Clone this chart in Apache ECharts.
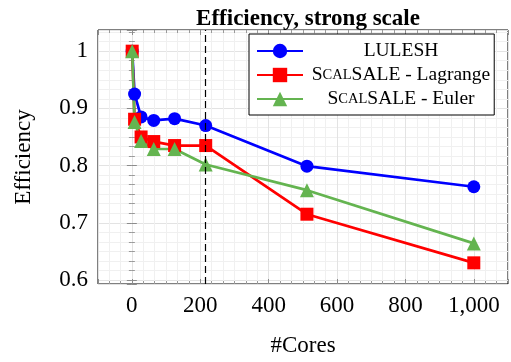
<!DOCTYPE html>
<html>
<head>
<meta charset="utf-8">
<script src="https://cdn.jsdelivr.net/npm/echarts@6/dist/echarts.min.js"></script>
<style>
  html, body { margin: 0; padding: 0; background: #fff; }
  #container { width: 511px; height: 362px; }
</style>
</head>
<body>
<div id="container"></div>
<script>
// cores (cube numbers)
var cores = [1, 8, 27, 64, 125, 216, 512, 1000];
var lulesh = [1.0, 0.925, 0.885, 0.879, 0.882, 0.870, 0.799, 0.763];
var lagrange = [1.0, 0.881, 0.850, 0.842, 0.835, 0.835, 0.715, 0.630];
var euler = [1.0, 0.876, 0.843, 0.829, 0.829, 0.802, 0.757, 0.664];
var markCores = 216;

var serif = '"Liberation Serif", "DejaVu Serif", serif';

function pairs(xs, ys) {
  var out = [];
  for (var i = 0; i < xs.length; i++) out.push([xs[i], ys[i]]);
  return out;
}

function fmtX(v) {
  return String(v).replace(/\B(?=(\d{3})+(?!\d))/g, ',');
}

var tickStyle = { show: true, inside: true, length: 5, lineStyle: { color: '#8c8c8c', width: 1 } };
var minorStyle = { show: true, splitNumber: 6, length: 3, lineStyle: { color: '#9a9a9a', width: 1 } };

var xBase = { type: 'value', min: -99, max: 1100, splitNumber: 6 };
var yBase = { type: 'value', min: 0.593, max: 1.037, splitNumber: 5 };

var chart = echarts.init(document.getElementById('container'));
var option = {
  backgroundColor: '#fff',
  animation: false,
  title: {
    text: 'Efficiency, strong scale',
    left: 303, top: 3, textAlign: 'center',
    textStyle: { fontFamily: serif, fontSize: 23, fontWeight: 'bold', color: '#000' }
  },
  grid: {
    show: true, left: 98, right: 3, top: 30, bottom: 77,
    borderColor: '#000', borderWidth: 1, backgroundColor: 'rgba(0,0,0,0)'
  },
  legend: {
    orient: 'vertical',
    left: 249, top: 34,
    padding: [7, 4, 6, 7],
    itemGap: 4,
    itemWidth: 46, itemHeight: 18,
    backgroundColor: '#fff',
    borderColor: '#000', borderWidth: 1, borderRadius: 0,
    data: ['LULESH', 'Lagrange', 'Euler'],
    formatter: function (name) {
      if (name === 'LULESH') return '{b|LULESH}';
      return '{b|S}{s|CAL}{b|SALE - ' + name + '}';
    },
    textStyle: {
      width: 186,
      fontFamily: serif, fontSize: 19.5, color: '#000',
      rich: {
        b: { fontFamily: serif, fontSize: 19.5, color: '#000', align: 'center' },
        s: { fontFamily: serif, fontSize: 14.5, color: '#000', align: 'center' }
      }
    }
  },
  xAxis: [
    Object.assign({}, xBase, {
      position: 'bottom',
      name: '#Cores', nameLocation: 'middle', nameGap: 50,
      nameTextStyle: { fontFamily: serif, fontSize: 23, color: '#000' },
      axisLine: { show: false },
      axisTick: tickStyle,
      minorTick: minorStyle,
      axisLabel: {
        showMinLabel: false, showMaxLabel: false, margin: 10,
        fontFamily: serif, fontSize: 23, color: '#000', formatter: fmtX
      },
      splitLine: { show: true, lineStyle: { color: '#e3e3e3', width: 1 } },
      minorSplitLine: { show: true, lineStyle: { color: '#f0f0f0', width: 1 } }
    }),
    Object.assign({}, xBase, {
      position: 'top',
      axisLine: { show: false },
      axisTick: tickStyle,
      minorTick: minorStyle,
      axisLabel: { show: false },
      splitLine: { show: false }
    })
  ],
  yAxis: [
    Object.assign({}, yBase, {
      position: 'left',
      name: 'Efficiency', nameLocation: 'middle', nameGap: 63,
      nameTextStyle: { fontFamily: serif, fontSize: 23, color: '#000' },
      axisLine: { show: false },
      axisTick: tickStyle,
      minorTick: minorStyle,
      axisLabel: {
        showMinLabel: false, showMaxLabel: false, margin: 10,
        fontFamily: serif, fontSize: 23, color: '#000'
      },
      splitLine: { show: true, lineStyle: { color: '#e3e3e3', width: 1 } },
      minorSplitLine: { show: true, lineStyle: { color: '#f0f0f0', width: 1 } }
    }),
    Object.assign({}, yBase, {
      position: 'right',
      axisLine: { show: false },
      axisTick: tickStyle,
      minorTick: minorStyle,
      axisLabel: { show: false },
      splitLine: { show: false }
    })
  ],
  series: [
    {
      name: 'LULESH', type: 'line', data: pairs(cores, lulesh),
      symbol: 'circle', symbolSize: 13,
      lineStyle: { color: '#0000ff', width: 2.7 },
      itemStyle: { color: '#0000ff' }
    },
    {
      name: 'Lagrange', type: 'line', data: pairs(cores, lagrange),
      symbol: 'rect', symbolSize: 13,
      lineStyle: { color: '#ff0000', width: 2.7 },
      itemStyle: { color: '#ff0000' }
    },
    {
      name: 'Euler', type: 'line', data: pairs(cores, euler),
      symbol: 'triangle', symbolSize: 14,
      lineStyle: { color: '#64b450', width: 2.7 },
      itemStyle: { color: '#64b450' }
    },
    {
      name: 'mark', type: 'line', data: [], z: 10,
      markLine: {
        silent: true, symbol: 'none', animation: false,
        label: { show: false },
        lineStyle: { color: '#000', width: 1.2, type: [7, 4] },
        data: [{ xAxis: markCores }]
      }
    }
  ]
};
chart.setOption(option);
</script>
</body>
</html>
